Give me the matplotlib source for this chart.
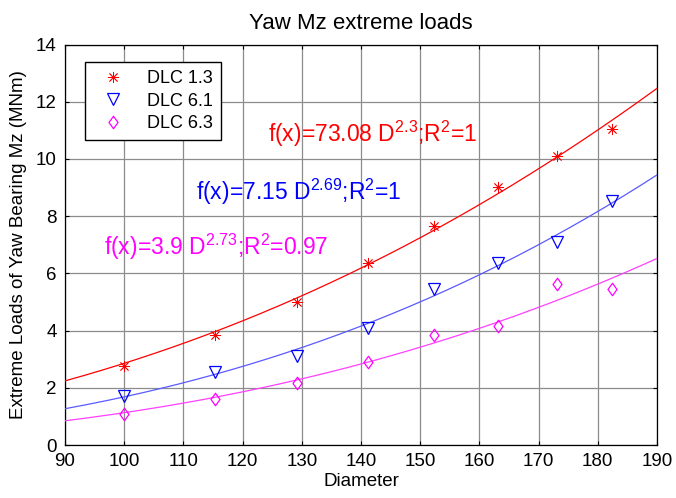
import numpy as np
import matplotlib
matplotlib.use("Agg")
import matplotlib.pyplot as plt
from matplotlib.path import Path

plt.rcParams['font.family'] = ['Liberation Sans', 'DejaVu Sans']
plt.rcParams['mathtext.default'] = 'regular'

# Rotor diameters (m)
diameter = [100, 115.3, 129.2, 141.2, 152.4, 163.2, 173.1, 182.4]

# Extreme yaw bearing Mz loads (MNm) per load case
dlc13 = [2.76, 3.85, 5.01, 6.35, 7.66, 9.03, 10.10, 11.04]
dlc61 = [1.71, 2.55, 3.10, 4.09, 5.44, 6.36, 7.10, 8.52]
dlc63 = [1.07, 1.60, 2.16, 2.91, 3.86, 4.16, 5.62, 5.44]

series_names = ['DLC 1.3', 'DLC 6.1', 'DLC 6.3']

# Power-law fits f(D) = a * D^b  (Nm), shown in MNm
fit_a = [73.08, 7.15, 3.9]
fit_b = [2.296, 2.686, 2.731]
fit_r2 = ['1', '1', '0.97']

x_ticks = list(range(90, 191, 10))
y_ticks = list(range(0, 15, 2))

colors = ['#ff0000', '#0000ff', '#ff00ff']
line_colors = ['#ff0000', '#5a5aff', '#ff40ff']

diamond = Path([(0, 1), (0.72, 0), (0, -1), (-0.72, 0), (0, 1)],
               [Path.MOVETO, Path.LINETO, Path.LINETO, Path.LINETO, Path.CLOSEPOLY])
markers = [(8, 2, 0), 'v', diamond]
msizes = [8, 8.5, 9]
medges = [0.6, 0.9, 0.9]

fig = plt.figure(figsize=(6.76, 4.98), dpi=100)
ax = fig.add_axes([0.0962, 0.1064, 0.8757, 0.8042])

d_fit = np.linspace(90, 190, 200)
data = [dlc13, dlc61, dlc63]
for vals, name, c, lc, m, ms, mew, a, b in zip(data, series_names, colors, line_colors,
                                                 markers, msizes, medges, fit_a, fit_b):
    ax.plot(diameter, vals, linestyle='none', marker=m, markersize=ms,
            markerfacecolor='none', markeredgecolor=c, markeredgewidth=mew,
            label=name, zorder=4)
    ax.plot(d_fit, a * d_fit ** b / 1e6, color=lc, linewidth=0.9, zorder=3)

# Fit equations
eq_pos = [(124.3, 10.87), (112.1, 8.86), (96.6, 6.93)]
for (tx, ty), a, b, r2, c in zip(eq_pos, fit_a, fit_b, fit_r2, colors):
    b_txt = f"{b:.2f}".rstrip('0').rstrip('.')
    ax.text(tx, ty, f"f(x)={a:g} D$^{{{b_txt}}}$;R$^2$={r2}",
            color=c, fontsize=16.5, ha='left', va='center', zorder=5)

ax.set_xlim(90, 190)
ax.set_ylim(0, 14)
ax.set_xticks(x_ticks)
ax.set_yticks(y_ticks)
ax.tick_params(direction='in', top=True, right=True, length=3, width=0.8,
               labelsize=13.5, pad=6)
ax.grid(True, color='#8c8c8c', linewidth=0.9)
ax.set_axisbelow(True)
for s in ax.spines.values():
    s.set_linewidth(0.9)
    s.set_color('black')

ax.set_title('Yaw Mz extreme loads', fontsize=16, pad=11)
ax.set_xlabel('Diameter', fontsize=13.5, labelpad=2)
ax.set_ylabel('Extreme Loads of Yaw Bearing Mz (MNm)', fontsize=13.5, labelpad=6)

leg = ax.legend(loc='upper left', bbox_to_anchor=(0.034, 0.956), fontsize=13,
                frameon=True, fancybox=False, framealpha=1, edgecolor='black',
                borderaxespad=0, handlelength=2.2, handletextpad=0.8,
                labelspacing=0.3, borderpad=0.45, numpoints=1)
leg.get_frame().set_linewidth(1.0)

fig.savefig('out.png', dpi=100, facecolor='white')
